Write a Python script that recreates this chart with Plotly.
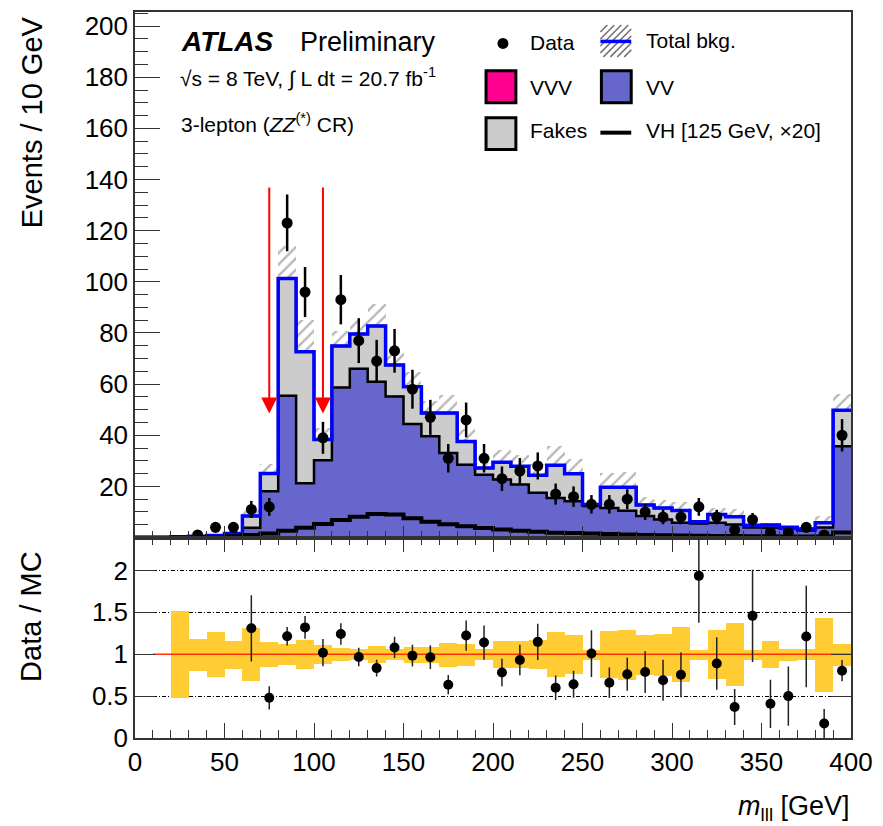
import numpy as np
import plotly.graph_objects as go

# ---------------- data (10 GeV bins, 0-400 GeV) ----------------
bin_edges = [0, 10, 20, 30, 40, 50, 60, 70, 80, 90, 100, 110, 120, 130, 140, 150, 160, 170, 180, 190,
             200, 210, 220, 230, 240, 250, 260, 270, 280, 290, 300, 310, 320, 330, 340, 350, 360, 370, 380, 390, 400]

data_counts = [0, 0, 0, 1, 4, 4, 11, 12, 123, 96, 39, 93, 77, 69, 73, 58, 47, 31, 46, 31,
               23, 26, 28, 17, 16, 13, 13, 15, 10, 8, 8, 12, 8, 3, 7, 2, 2, 4, 1, 40]

vv = [0, 0, 0, 0, 0.2, 1.0, 3.8, 18.1, 55.4, 21.2, 30.2, 58.7, 66.0, 60.9, 55.2, 44.4, 39.6, 33.1, 28.5, 24.6,
      22.7, 20.7, 17.5, 15.5, 14.2, 12.3, 11.6, 10.5, 8.4, 7.1, 5.8, 5.5, 5.8, 5.1, 3.9, 3.8, 3.5, 2.8, 3.9, 35.7]

vvv = [0, 0, 0, 0, 0, 0, 0.1, 0.2, 0.2, 0.2, 0.2, 0.2, 0.2, 0.2, 0.2, 0.2, 0.2, 0.2, 0.2, 0.2,
       0.2, 0.2, 0.2, 0.2, 0.2, 0.2, 0.2, 0.2, 0.2, 0.2, 0.1, 0.1, 0.1, 0.1, 0.1, 0.1, 0.1, 0.1, 0.1, 0.1]

fakes = [0, 0, 0.3, 0.5, 0.6, 0.6, 4.5, 6.7, 45.7, 51.3, 7.9, 16.0, 13.4, 21.6, 12.1, 14.4, 8.9, 15.4, 8.9, 2.4,
         6.5, 7.0, 6.7, 12.6, 10.5, 0.4, 7.9, 9.0, 4.1, 4.3, 4.7, 0.6, 3.1, 2.9, 0.8, 1.0, 0.4, 0.4, 1.8, 14.0]

vh_x20 = [0, 0, 0, 0, 0.2, 0.5, 1.0, 1.6, 2.7, 3.8, 5.3, 6.9, 8.1, 9.2, 9.0, 7.5, 6.2, 5.2, 4.4, 3.7,
          3.1, 2.7, 2.3, 1.9, 1.8, 1.6, 1.4, 1.2, 1.0, 0.9, 0.8, 0.7, 0.6, 0.6, 0.5, 0.5, 0.4, 0.4, 0.4, 2.0]

bkg_rel_unc = [0, 0, 0.52, 0.19, 0.265, 0.165, 0.32, 0.15, 0.125, 0.17, 0.115, 0.08, 0.067, 0.105, 0.067, 0.095,
               0.095, 0.143, 0.133, 0.065, 0.16, 0.16, 0.175, 0.265, 0.23, 0.06, 0.28, 0.30, 0.24, 0.25,
               0.33, 0.06, 0.29, 0.375, 0.06, 0.16, 0.07, 0.065, 0.44, 0.13]

cut_positions = [75, 105]
main_yticks = [20, 40, 60, 80, 100, 120, 140, 160, 180, 200]
ratio_yticks = [0, 0.5, 1, 1.5, 2]
ratio_yticktext = ["0", "0.5", "1", "1.5", "2"]
x_ticks = [0, 50, 100, 150, 200, 250, 300, 350, 400]

# ---------------- derived ----------------
edges = np.array(bin_edges, dtype=float)
centers = 0.5 * (edges[:-1] + edges[1:])
widths = np.diff(edges)
d = np.array(data_counts, dtype=float)
vv_a = np.array(vv)
vvv_a = np.array(vvv)
fk_a = np.array(fakes)
total = vv_a + vvv_a + fk_a
abs_unc = total * np.array(bkg_rel_unc)


def step(vals):
    v = list(vals)
    return list(edges), v + [v[-1]]


FONT = "Liberation Sans, Arial, Helvetica, sans-serif"
C_VV = "#6666cc"
C_FAKE = "#cccccc"
C_VVV = "#ff0090"
C_BAND = "#ffcc33"

fig = go.Figure()

# stacked histograms (cumulative fills)
sx, sy = step(total)
fig.add_trace(go.Scatter(x=sx, y=sy, mode="lines", line=dict(shape="hv", color="black", width=2.5),
                         fill="tozeroy", fillcolor=C_FAKE, hoverinfo="skip"))
sx, sy = step(vv_a + vvv_a)
fig.add_trace(go.Scatter(x=sx, y=sy, mode="lines", line=dict(shape="hv", color=C_VVV, width=0.5),
                         fill="tozeroy", fillcolor=C_VVV, hoverinfo="skip"))
sx, sy = step(vv_a)
fig.add_trace(go.Scatter(x=sx, y=sy, mode="lines", line=dict(shape="hv", color="black", width=2.5),
                         fill="tozeroy", fillcolor=C_VV, hoverinfo="skip"))

# hatched uncertainty band
fig.add_trace(go.Bar(x=centers, y=2 * abs_unc, base=total - abs_unc, width=widths,
                     marker=dict(color="rgba(0,0,0,0)", line=dict(width=0),
                                 pattern=dict(shape="/", fgcolor="#707070", bgcolor="rgba(0,0,0,0)",
                                              size=8, solidity=0.3)),
                     hoverinfo="skip"))

# total background outline
sx, sy = step(total)
fig.add_trace(go.Scatter(x=sx, y=sy, mode="lines", line=dict(shape="hv", color="#0000ff", width=3.5),
                         hoverinfo="skip"))

# VH signal x20
sx, sy = step(vh_x20)
fig.add_trace(go.Scatter(x=sx, y=sy, mode="lines", line=dict(shape="hv", color="black", width=4),
                         hoverinfo="skip"))

# data
mask = d > 0
fig.add_trace(go.Scatter(x=centers[mask], y=d[mask], mode="markers",
                         marker=dict(color="black", size=11),
                         error_y=dict(type="data", array=np.sqrt(d[mask]), color="black",
                                      thickness=2.5, width=0),
                         hoverinfo="skip"))

# ---------------- ratio panel ----------------
has_unc = np.array(bkg_rel_unc) > 0
rel = np.array(bkg_rel_unc)
fig.add_trace(go.Bar(x=centers[has_unc], y=2 * rel[has_unc], base=1 - rel[has_unc], width=widths[has_unc],
                     marker=dict(color=C_BAND, line=dict(width=0)), xaxis="x2", yaxis="y2",
                     hoverinfo="skip"))
fig.add_trace(go.Scatter(x=[edges[1], edges[-1]], y=[1, 1], mode="lines",
                         line=dict(color="#ff3300", width=1.5), xaxis="x2", yaxis="y2", hoverinfo="skip"))

rmask = (d > 0) & (total > 2)
ratio = d[rmask] / total[rmask]
ratio_err = np.sqrt(d[rmask]) / total[rmask]
fig.add_trace(go.Scatter(x=centers[rmask], y=ratio, mode="markers",
                         marker=dict(color="black", size=10),
                         error_y=dict(type="data", array=ratio_err, color="#222222", thickness=1.5, width=0),
                         xaxis="x2", yaxis="y2", hoverinfo="skip"))

# ---------------- layout ----------------
W, H = 883, 826
ML, MR, MT, MB = 135, 28, 10, 88
PW, PH = W - ML - MR, H - MT - MB
split = (738 - 537) / PH


def px(x):
    return (x - ML) / PW


def py(y):
    return (H - MB - y) / PH


axis_line = dict(showline=True, linecolor="#333333", linewidth=1.5, zeroline=False, showgrid=False,
                 tickcolor="#333333", tickfont=dict(family=FONT, size=26, color="black"))

fig.update_layout(
    width=W, height=H, margin=dict(l=ML, r=MR, t=MT, b=MB),
    paper_bgcolor="white", plot_bgcolor="white", showlegend=False,
    barmode="overlay", bargap=0,
    xaxis=dict(axis_line, domain=[0, 1], anchor="y", range=[0, 400], mirror=True,
               tickvals=x_ticks, showticklabels=False, ticks="inside", ticklen=12,
               minor=dict(dtick=10, tick0=0, ticks="inside", ticklen=7, tickcolor="#333333"),
               matches="x2"),
    yaxis=dict(axis_line, domain=[split, 1], anchor="x", range=[0, 205.5], mirror=True,
               tickvals=main_yticks, ticks="inside", ticklen=25,
               minor=dict(dtick=5, tick0=0, ticks="inside", ticklen=13, tickcolor="#333333")),
    xaxis2=dict(axis_line, domain=[0, 1], anchor="y2", range=[0, 400], mirror="allticks",
                tickvals=x_ticks, ticks="inside", ticklen=15,
                minor=dict(dtick=10, tick0=0, ticks="inside", ticklen=8, tickcolor="#333333")),
    yaxis2=dict(axis_line, domain=[0, split], anchor="x2", range=[0, 2.393], mirror="allticks",
                tickvals=ratio_yticks, ticktext=ratio_yticktext, ticks="inside", ticklen=20,
                showgrid=True, gridcolor="black", gridwidth=1, griddash="4px,2px,1px,2px"),
)

ann = []
# axis titles
ann.append(dict(x=px(31), y=py(121), xref="paper", yref="paper", text="Events / 10 GeV",
                textangle=-90, showarrow=False, xanchor="center", yanchor="middle",
                font=dict(family=FONT, size=29, color="black")))
ann.append(dict(x=px(31), y=py(616), xref="paper", yref="paper", text="Data / MC",
                textangle=-90, showarrow=False, xanchor="center", yanchor="middle",
                font=dict(family=FONT, size=29, color="black")))
ann.append(dict(x=px(856), y=py(808), xref="paper", yref="paper",
                text="<i>m</i><sub>lll</sub> [GeV]", showarrow=False, xanchor="right", yanchor="middle",
                font=dict(family=FONT, size=27, color="black")))
# ATLAS label
ann.append(dict(x=px(179), y=py(40), xref="paper", yref="paper", text="<b><i>ATLAS</i></b>",
                showarrow=False, xanchor="left", yanchor="middle",
                font=dict(family=FONT, size=28, color="black")))
ann.append(dict(x=px(299), y=py(40), xref="paper", yref="paper", text="Preliminary",
                showarrow=False, xanchor="left", yanchor="middle",
                font=dict(family=FONT, size=27, color="black")))
ann.append(dict(x=px(178), y=py(76), xref="paper", yref="paper",
                text="√s = 8 TeV, ∫ L dt = 20.7 fb<sup>-1</sup>",
                showarrow=False, xanchor="left", yanchor="middle",
                font=dict(family=FONT, size=21, color="black")))
ann.append(dict(x=px(179), y=py(121), xref="paper", yref="paper",
                text="3-lepton (<i>ZZ</i><sup>(*)</sup> CR)",
                showarrow=False, xanchor="left", yanchor="middle",
                font=dict(family=FONT, size=21, color="black")))

# legend texts
leg_font = dict(family=FONT, size=21, color="black")
for (tx, ty, t) in [(530, 41, "Data"), (647, 39, "Total bkg."), (530, 86, "VVV"), (647, 86, "VV"),
                    (530, 129, "Fakes"), (647, 129, "VH [125 GeV, ×20]")]:
    ann.append(dict(x=px(tx), y=py(ty), xref="paper", yref="paper", text=t, showarrow=False,
                    xanchor="left", yanchor="middle", font=leg_font))

# cut arrows
for c in cut_positions:
    ann.append(dict(x=c, y=48.5, ax=c, ay=137.5, xref="x", yref="y", axref="x", ayref="y",
                    text="", showarrow=True, arrowhead=2, arrowsize=1.6, arrowwidth=2,
                    arrowcolor="#ff0000", standoff=0, startstandoff=0))

fig.update_layout(annotations=ann)

shapes = []
# legend symbols
shapes.append(dict(type="circle", xref="paper", yref="paper", x0=px(499.5), x1=px(510.5),
                   y0=py(47), y1=py(36), fillcolor="black", line=dict(width=0)))
# hatch box
bx0, bx1, by0, by1 = 603, 634, 23, 55
side = by1 - by0
c = bx0 - side
while c < bx1:
    xa, ya = c, by1
    xb, yb = c + side, by0
    if xa < bx0:
        ya = by1 - (bx0 - xa)
        xa = bx0
    if xb > bx1:
        yb = by0 + (xb - bx1)
        xb = bx1
    if xb > xa:
        shapes.append(dict(type="line", xref="paper", yref="paper", x0=px(xa), y0=py(ya), x1=px(xb),
                           y1=py(yb), line=dict(color="#707070", width=1.5)))
    c += 7
shapes.append(dict(type="line", xref="paper", yref="paper", x0=px(603), x1=px(634), y0=py(39.5), y1=py(39.5),
                   line=dict(color="#0000ff", width=3.5)))
for (x0, x1, y0, y1, col) in [(488, 518, 69, 101, C_VVV), (604, 634, 69, 101, C_VV), (488, 518, 116, 148, C_FAKE)]:
    shapes.append(dict(type="rect", xref="paper", yref="paper", x0=px(x0), x1=px(x1), y0=py(y1), y1=py(y0),
                       fillcolor=col, line=dict(color="black", width=3)))
shapes.append(dict(type="line", xref="paper", yref="paper", x0=px(603), x1=px(634), y0=py(131), y1=py(131),
                   line=dict(color="black", width=4)))
fig.update_layout(shapes=shapes)

fig.write_html("out.html")
